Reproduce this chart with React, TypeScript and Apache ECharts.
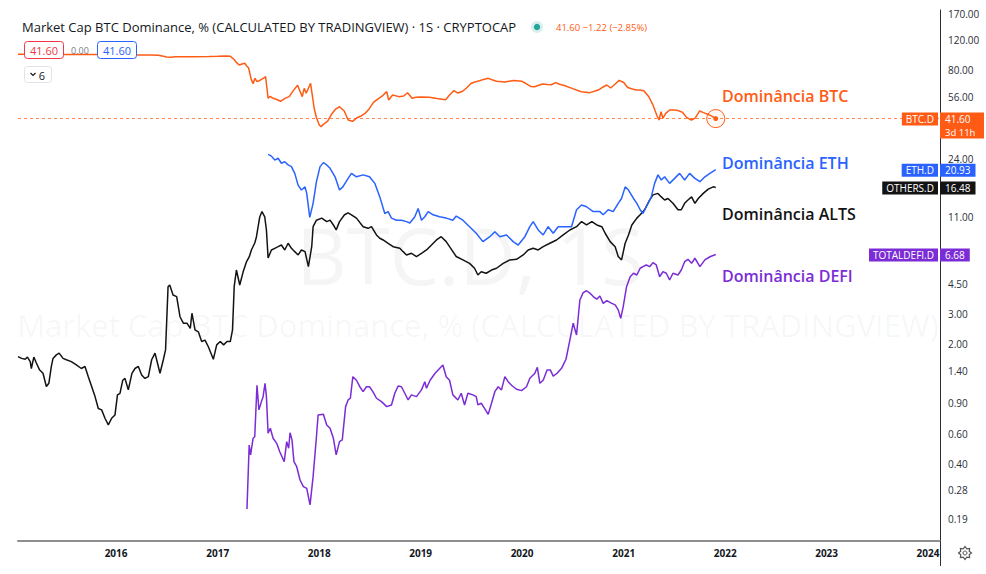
import React, { useEffect, useRef } from "react";
import * as echarts from "echarts";

// ---------- DATA ----------
const btcDominance: [string, number][] = [
  ["2015-01-13", 99.0], ["2015-03-01", 99.0], ["2015-05-01", 98.6], ["2015-07-01", 98.6], ["2015-09-01", 98.6],
  ["2015-11-01", 98.6], ["2016-01-01", 98.0], ["2016-03-01", 97.9], ["2016-05-01", 97.9], ["2016-06-01", 97.5],
  ["2016-06-15", 96.6], ["2016-07-01", 95.3], ["2016-07-15", 94.9], ["2016-08-01", 95.7], ["2016-10-01", 95.7],
  ["2016-12-01", 95.9], ["2017-01-01", 96.2], ["2017-02-01", 96.6], ["2017-02-15", 96.2], ["2017-03-01", 92.1],
  ["2017-03-08", 88.9], ["2017-03-19", 85.6], ["2017-04-01", 87.0], ["2017-04-08", 87.6], ["2017-04-15", 84.4],
  ["2017-04-22", 82.2], ["2017-05-01", 70.8], ["2017-05-08", 66.6], ["2017-05-15", 71.5], ["2017-05-22", 68.4],
  ["2017-06-01", 69.5], ["2017-06-15", 71.8], ["2017-06-22", 73.1], ["2017-07-01", 54.7], ["2017-07-08", 56.1],
  ["2017-07-15", 55.1], ["2017-08-01", 53.8], ["2017-08-15", 52.5], ["2017-09-01", 54.8], ["2017-09-15", 55.9],
  ["2017-10-01", 61.0], ["2017-10-15", 65.1], ["2017-11-01", 55.9], ["2017-11-08", 62.5], ["2017-11-15", 58.5],
  ["2017-12-01", 66.9], ["2017-12-08", 55.5], ["2017-12-15", 46.7], ["2017-12-22", 42.2], ["2018-01-01", 38.2],
  ["2018-01-08", 37.3], ["2018-01-15", 38.4], ["2018-02-01", 40.3], ["2018-02-15", 44.3], ["2018-03-01", 47.3],
  ["2018-03-15", 48.8], ["2018-04-01", 46.1], ["2018-04-15", 40.8], ["2018-05-01", 40.1], ["2018-05-15", 41.9],
  ["2018-06-01", 43.1], ["2018-06-15", 44.6], ["2018-07-01", 47.7], ["2018-07-15", 51.7], ["2018-08-01", 54.3],
  ["2018-08-15", 56.2], ["2018-09-01", 59.8], ["2018-09-08", 53.4], ["2018-09-22", 57.1], ["2018-10-15", 55.9],
  ["2018-11-01", 56.4], ["2018-11-15", 58.9], ["2018-12-01", 54.7], ["2018-12-15", 55.4], ["2019-01-01", 55.7],
  ["2019-02-01", 55.4], ["2019-03-01", 54.5], ["2019-04-01", 53.6], ["2019-04-15", 57.1], ["2019-05-01", 60.7],
  ["2019-05-15", 58.7], ["2019-06-01", 60.1], ["2019-06-15", 62.8], ["2019-07-01", 66.7], ["2019-07-15", 68.1],
  ["2019-08-01", 69.3], ["2019-08-15", 70.5], ["2019-09-01", 71.5], ["2019-09-15", 70.2], ["2019-10-01", 68.8],
  ["2019-11-01", 68.1], ["2019-12-01", 69.5], ["2020-01-01", 68.7], ["2020-01-15", 66.7], ["2020-02-01", 64.1],
  ["2020-02-15", 63.9], ["2020-03-01", 65.1], ["2020-03-15", 66.3], ["2020-04-01", 65.8], ["2020-04-15", 65.6],
  ["2020-05-01", 67.5], ["2020-05-15", 66.0], ["2020-06-01", 64.9], ["2020-07-01", 62.3], ["2020-08-01", 59.7],
  ["2020-09-01", 59.0], ["2020-10-01", 61.1], ["2020-10-15", 63.2], ["2020-11-01", 65.4], ["2020-11-15", 62.8],
  ["2020-12-01", 66.3], ["2020-12-15", 69.6], ["2021-01-01", 67.6], ["2021-01-15", 63.2], ["2021-02-01", 61.9],
  ["2021-02-15", 61.1], ["2021-03-01", 61.1], ["2021-03-15", 60.3], ["2021-04-01", 55.8], ["2021-04-15", 50.4],
  ["2021-05-01", 43.1], ["2021-05-08", 40.8], ["2021-05-15", 45.6], ["2021-05-22", 41.8], ["2021-06-01", 44.6],
  ["2021-06-15", 46.7], ["2021-07-01", 46.7], ["2021-07-15", 46.4], ["2021-08-01", 45.2], ["2021-08-15", 42.3],
  ["2021-09-01", 40.8], ["2021-09-15", 41.9], ["2021-10-01", 46.1], ["2021-10-15", 45.1], ["2021-11-01", 44.0],
  ["2021-11-15", 42.9], ["2021-11-28", 41.6],
];

const ethDominance: [string, number][] = [
  ["2017-07-01", 25.7], ["2017-07-13", 25.1], ["2017-07-25", 23.8], ["2017-08-06", 24.4], ["2017-08-18", 22.8],
  ["2017-08-30", 23.3], ["2017-09-11", 22.3], ["2017-09-23", 21.8], ["2017-10-05", 19.9], ["2017-10-17", 17.0],
  ["2017-10-29", 15.9], ["2017-11-11", 16.6], ["2017-11-17", 15.2], ["2017-11-28", 11.0], ["2017-12-10", 13.3],
  ["2017-12-22", 17.8], ["2018-01-04", 21.8], ["2018-01-16", 23.0], ["2018-01-28", 22.3], ["2018-02-09", 21.3],
  ["2018-02-27", 19.0], ["2018-03-15", 15.9], ["2018-03-27", 16.6], ["2018-04-15", 18.6], ["2018-04-27", 19.9],
  ["2018-05-15", 19.0], ["2018-06-08", 19.5], ["2018-07-01", 19.0], ["2018-07-20", 17.4], ["2018-08-07", 14.5],
  ["2018-08-25", 11.6], ["2018-09-06", 11.9], ["2018-09-18", 10.9], ["2018-10-06", 10.6], ["2018-10-24", 10.6],
  ["2018-11-11", 10.4], ["2018-11-23", 10.2], ["2018-12-11", 11.1], ["2018-12-23", 12.4], ["2019-01-04", 10.6],
  ["2019-01-16", 11.1], ["2019-01-28", 11.9], ["2019-02-15", 11.4], ["2019-03-10", 11.1], ["2019-04-03", 10.9],
  ["2019-04-27", 10.6], ["2019-05-09", 11.2], ["2019-06-02", 10.6], ["2019-06-26", 9.71], ["2019-07-20", 8.89],
  ["2019-08-13", 7.94], ["2019-09-07", 8.49], ["2019-09-25", 9.08], ["2019-10-13", 8.49], ["2019-11-06", 8.69],
  ["2019-11-30", 7.94], ["2019-12-18", 7.59], ["2020-01-11", 8.49], ["2020-01-29", 9.71], ["2020-02-10", 10.4],
  ["2020-02-28", 9.29], ["2020-03-17", 8.69], ["2020-04-04", 9.71], ["2020-04-22", 8.89], ["2020-05-10", 9.71],
  ["2020-06-03", 9.71], ["2020-06-27", 9.71], ["2020-07-15", 12.2], ["2020-08-02", 13.0], ["2020-08-20", 12.7],
  ["2020-09-13", 11.9], ["2020-10-07", 11.9], ["2020-10-19", 11.4], ["2020-11-06", 12.2], ["2020-11-24", 11.9],
  ["2020-12-12", 13.3], ["2020-12-24", 14.2], ["2021-01-06", 16.6], ["2021-01-18", 15.9], ["2021-02-05", 14.2],
  ["2021-02-17", 13.3], ["2021-03-01", 12.2], ["2021-03-11", 11.6], ["2021-03-23", 12.7], ["2021-04-10", 14.5],
  ["2021-04-22", 17.4], ["2021-05-04", 19.5], ["2021-05-16", 18.2], ["2021-05-28", 19.0], ["2021-06-15", 17.4],
  ["2021-07-03", 18.6], ["2021-07-21", 19.9], ["2021-08-08", 18.2], ["2021-08-26", 19.9], ["2021-09-14", 18.6],
  ["2021-10-02", 17.8], ["2021-10-20", 19.0], ["2021-11-07", 19.9], ["2021-11-28", 20.93],
];

const altsDominance: [string, number][] = [
  ["2015-01-13", 1.69], ["2015-01-26", 1.65], ["2015-02-08", 1.63], ["2015-02-16", 1.68], ["2015-02-26", 1.58],
  ["2015-03-02", 1.44], ["2015-03-11", 1.68], ["2015-03-20", 1.55], ["2015-04-01", 1.41], ["2015-04-13", 1.35],
  ["2015-04-25", 1.13], ["2015-05-04", 1.18], ["2015-05-13", 1.48], ["2015-05-19", 1.65], ["2015-05-31", 1.73],
  ["2015-06-10", 1.77], ["2015-06-24", 1.65], ["2015-07-06", 1.62], ["2015-07-24", 1.58], ["2015-08-11", 1.51],
  ["2015-08-29", 1.44], ["2015-09-11", 1.48], ["2015-09-23", 1.29], ["2015-10-05", 1.13], ["2015-10-17", 0.99],
  ["2015-10-29", 0.84], ["2015-11-10", 0.825], ["2015-11-22", 0.737], ["2015-12-04", 0.674], ["2015-12-16", 0.737],
  ["2015-12-28", 0.771], ["2016-01-06", 1.01], ["2016-01-15", 1.03], ["2016-01-25", 1.23], ["2016-02-02", 1.26],
  ["2016-02-14", 1.08], ["2016-02-27", 1.35], ["2016-03-09", 1.44], ["2016-03-21", 1.48], ["2016-04-02", 1.32],
  ["2016-04-14", 1.26], ["2016-04-26", 1.29], ["2016-05-08", 1.62], ["2016-05-20", 1.77], ["2016-05-26", 1.62],
  ["2016-06-07", 1.35], ["2016-06-19", 1.62], ["2016-06-27", 1.85], ["2016-07-06", 4.33], ["2016-07-12", 4.43],
  ["2016-07-24", 3.87], ["2016-08-06", 3.79], ["2016-08-18", 2.89], ["2016-08-30", 2.65], ["2016-09-12", 2.65],
  ["2016-09-24", 2.47], ["2016-09-30", 3.03], ["2016-10-11", 2.42], ["2016-10-23", 2.36], ["2016-11-04", 2.07],
  ["2016-11-16", 2.11], ["2016-11-28", 1.93], ["2016-12-16", 1.63], ["2016-12-28", 1.98], ["2017-01-10", 2.07],
  ["2017-01-22", 1.98], ["2017-02-03", 2.07], ["2017-02-15", 2.07], ["2017-02-23", 2.42], ["2017-03-01", 4.33],
  ["2017-03-09", 5.42], ["2017-03-21", 4.43], ["2017-04-02", 5.27], ["2017-04-14", 6.04], ["2017-04-24", 6.46],
  ["2017-05-02", 7.10], ["2017-05-14", 7.80], ["2017-05-20", 8.46], ["2017-06-01", 11.07], ["2017-06-09", 11.9],
  ["2017-06-19", 11.07], ["2017-06-25", 9.29], ["2017-07-01", 6.37], ["2017-07-13", 7.10], ["2017-07-25", 7.26],
  ["2017-08-06", 7.42], ["2017-08-18", 7.59], ["2017-08-30", 7.10], ["2017-09-11", 7.77], ["2017-09-23", 7.26],
  ["2017-10-05", 6.94], ["2017-10-17", 6.64], ["2017-10-29", 7.10], ["2017-11-11", 6.94], ["2017-11-23", 5.67],
  ["2017-12-05", 7.42], ["2017-12-10", 9.71], ["2017-12-22", 10.6], ["2018-01-10", 10.9], ["2018-01-28", 10.4],
  ["2018-02-09", 10.6], ["2018-02-21", 9.94], ["2018-03-03", 9.29], ["2018-03-15", 10.4], ["2018-04-02", 11.4],
  ["2018-04-15", 11.7], ["2018-04-27", 11.4], ["2018-05-15", 10.9], ["2018-06-08", 9.71], ["2018-06-26", 9.50],
  ["2018-07-08", 9.71], ["2018-07-26", 8.69], ["2018-08-07", 8.31], ["2018-08-19", 8.12], ["2018-09-06", 7.77],
  ["2018-09-24", 7.42], ["2018-10-18", 7.26], ["2018-10-30", 6.94], ["2018-11-11", 6.64], ["2018-11-29", 6.79],
  ["2018-12-17", 6.50], ["2019-01-04", 6.79], ["2019-01-22", 7.10], ["2019-02-09", 7.59], ["2019-02-27", 8.12],
  ["2019-03-16", 8.49], ["2019-04-03", 7.94], ["2019-04-15", 7.42], ["2019-05-09", 6.50], ["2019-06-02", 6.21],
  ["2019-06-26", 5.93], ["2019-07-14", 5.55], ["2019-07-26", 5.07], ["2019-08-07", 5.30], ["2019-08-25", 5.19],
  ["2019-09-13", 5.42], ["2019-10-01", 5.55], ["2019-10-25", 5.93], ["2019-11-18", 6.21], ["2019-12-12", 6.26],
  ["2020-01-05", 6.64], ["2020-01-23", 7.10], ["2020-02-10", 7.26], ["2020-02-28", 7.10], ["2020-03-17", 7.42],
  ["2020-04-10", 7.77], ["2020-05-04", 8.12], ["2020-05-28", 8.69], ["2020-06-21", 9.29], ["2020-07-15", 9.71],
  ["2020-08-02", 10.4], ["2020-08-20", 9.94], ["2020-09-08", 10.4], ["2020-09-26", 9.94], ["2020-10-14", 9.71],
  ["2020-10-26", 8.89], ["2020-11-13", 7.94], ["2020-12-01", 7.42], ["2020-12-12", 6.50], ["2020-12-24", 6.21],
  ["2021-01-06", 7.77], ["2021-01-18", 8.69], ["2021-01-30", 9.94], ["2021-02-17", 10.9], ["2021-03-01", 11.4],
  ["2021-03-17", 12.2], ["2021-04-04", 13.9], ["2021-04-16", 14.9], ["2021-05-04", 15.2], ["2021-05-16", 14.5],
  ["2021-05-28", 13.9], ["2021-06-09", 14.2], ["2021-06-27", 13.3], ["2021-07-15", 12.2], ["2021-07-27", 12.2],
  ["2021-08-08", 13.3], ["2021-08-20", 13.9], ["2021-09-02", 14.5], ["2021-09-14", 13.3], ["2021-09-26", 14.2],
  ["2021-10-14", 15.2], ["2021-11-01", 16.1], ["2021-11-19", 16.6], ["2021-11-28", 16.48],
];

const defiDominance: [string, number][] = [
  ["2017-04-16", 0.217], ["2017-04-24", 0.514], ["2017-04-29", 0.450], ["2017-05-08", 0.563], ["2017-05-14", 0.575],
  ["2017-05-22", 1.15], ["2017-05-29", 0.825], ["2017-06-07", 0.922], ["2017-06-13", 0.986], ["2017-06-20", 1.18],
  ["2017-06-25", 0.986], ["2017-07-01", 0.602], ["2017-07-09", 0.644], ["2017-07-19", 0.563], ["2017-08-01", 0.526],
  ["2017-08-12", 0.470], ["2017-08-28", 0.411], ["2017-09-06", 0.538], ["2017-09-13", 0.492], ["2017-09-18", 0.607],
  ["2017-09-25", 0.551], ["2017-10-02", 0.411], ["2017-10-12", 0.384], ["2017-10-24", 0.321], ["2017-11-05", 0.294],
  ["2017-11-17", 0.287], ["2017-11-29", 0.230], ["2017-12-10", 0.336], ["2017-12-22", 0.575], ["2017-12-28", 0.771],
  ["2018-01-16", 0.777], ["2018-01-28", 0.674], ["2018-02-09", 0.644], ["2018-02-21", 0.563], ["2018-03-03", 0.450],
  ["2018-03-15", 0.538], ["2018-03-25", 0.551], ["2018-04-06", 0.862], ["2018-04-15", 0.943], ["2018-04-23", 0.965],
  ["2018-05-02", 1.29], ["2018-05-15", 1.23], ["2018-05-27", 1.127], ["2018-06-08", 1.054], ["2018-06-20", 1.127],
  ["2018-07-01", 1.127], ["2018-07-13", 1.054], ["2018-07-26", 0.965], ["2018-08-13", 0.922], ["2018-09-01", 0.862],
  ["2018-09-18", 0.882], ["2018-09-30", 1.032], ["2018-10-12", 1.138], ["2018-10-24", 1.127], ["2018-11-05", 1.032],
  ["2018-11-17", 0.943], ["2018-11-29", 1.01], ["2018-12-17", 0.986], ["2019-01-04", 1.08], ["2019-01-16", 1.206],
  ["2019-01-22", 1.104], ["2019-02-04", 1.23], ["2019-02-22", 1.351], ["2019-03-16", 1.476], ["2019-03-22", 1.51],
  ["2019-04-03", 1.29], ["2019-04-15", 1.23], ["2019-04-27", 1.01], ["2019-05-15", 0.943], ["2019-05-27", 1.032],
  ["2019-06-08", 0.882], ["2019-06-20", 1.032], ["2019-07-08", 1.01], ["2019-07-20", 0.986], ["2019-07-26", 0.882],
  ["2019-08-07", 0.902], ["2019-08-19", 0.843], ["2019-09-01", 0.777], ["2019-09-13", 0.902], ["2019-09-25", 1.054],
  ["2019-10-07", 1.127], ["2019-10-19", 1.08], ["2019-10-31", 1.29], ["2019-11-12", 1.206], ["2019-11-24", 1.15],
  ["2019-12-12", 1.089], ["2019-12-30", 1.069], ["2020-01-17", 1.127], ["2020-01-29", 1.262], ["2020-02-16", 1.351],
  ["2020-02-25", 1.464], ["2020-03-05", 1.18], ["2020-03-17", 1.23], ["2020-03-31", 1.41], ["2020-04-12", 1.41],
  ["2020-04-22", 1.30], ["2020-05-06", 1.351], ["2020-05-22", 1.444], ["2020-06-07", 1.631], ["2020-06-21", 2.11],
  ["2020-07-03", 2.65], ["2020-07-15", 2.26], ["2020-07-27", 3.62], ["2020-08-08", 4.00], ["2020-08-20", 4.10],
  ["2020-09-02", 3.96], ["2020-09-13", 3.79], ["2020-09-26", 3.66], ["2020-10-07", 3.82], ["2020-10-19", 3.46],
  ["2020-11-01", 3.59], ["2020-11-19", 3.46], ["2020-12-01", 3.39], ["2020-12-12", 3.17], ["2020-12-21", 2.83],
  ["2020-12-30", 3.31], ["2021-01-11", 4.33], ["2021-01-24", 4.95], ["2021-02-05", 5.19], ["2021-02-17", 5.07],
  ["2021-03-01", 5.55], ["2021-03-11", 5.67], ["2021-03-23", 5.80], ["2021-04-04", 5.67], ["2021-04-16", 5.98],
  ["2021-04-28", 5.80], ["2021-05-10", 4.95], ["2021-05-22", 5.30], ["2021-06-03", 5.19], ["2021-06-15", 4.74],
  ["2021-06-27", 5.19], ["2021-07-15", 5.07], ["2021-07-27", 5.42], ["2021-08-08", 6.06], ["2021-08-20", 6.26],
  ["2021-09-02", 5.93], ["2021-09-14", 6.35], ["2021-10-02", 5.67], ["2021-10-20", 6.21], ["2021-11-07", 6.48],
  ["2021-11-28", 6.68],
];

const yAxisTicks = [0.19, 0.28, 0.4, 0.6, 0.9, 1.4, 2, 3, 4.5, 11, 24, 56, 80, 120, 170];
const yearTicks = [2016, 2017, 2018, 2019, 2020, 2021, 2022, 2023, 2024];

const X_MIN = "2015-01-13";
const X_MAX = "2024-02-13";
const Y_MIN = 0.1413;
const Y_MAX = 179.4;

const ORANGE = "#ff5b14";
const BLUE = "#2962ff";
const BLACK = "#131313";
const PURPLE = "#7b2cd6";

const seriesInfo = [
  { name: "TOTALDEFI.D", label: "Dominância DEFI", color: PURPLE, data: defiDominance, labelY: 276 },
  { name: "OTHERS.D", label: "Dominância ALTS", color: BLACK, data: altsDominance, labelY: 214 },
  { name: "ETH.D", label: "Dominância ETH", color: BLUE, data: ethDominance, labelY: 163 },
  { name: "BTC.D", label: "Dominância BTC", color: ORANGE, data: btcDominance, labelY: 96 },
];

const FONT = '"Open Sans", "Noto Sans", sans-serif';
const toTs = (d: string) => Date.parse(d + "T00:00:00Z");

export default function App() {
  const ref = useRef<HTMLDivElement>(null);

  useEffect(() => {
    if (!ref.current) return;
    const chart = echarts.init(ref.current, null, { renderer: "svg" });
    const btcLastRaw = btcDominance[btcDominance.length - 1];
    const btcLast = [toTs(btcLastRaw[0]), btcLastRaw[1]];

    const series: any[] = seriesInfo.map((s) => ({
      type: "line",
      name: s.name,
      data: s.data.map(([d, v]) => [toTs(d), v]),
      symbol: "none",
      showSymbol: false,
      lineStyle: { color: s.color, width: 1.5 },
      itemStyle: { color: s.color },
      emphasis: { disabled: true },
      z: 3,
    }));
    const btcSeries = series[3];
    btcSeries.markLine = {
      silent: true,
      symbol: ["none", "none"],
      label: { show: false },
      lineStyle: { color: ORANGE, type: [3, 3], width: 1, opacity: 0.75 },
      data: [{ yAxis: btcLast[1] }],
    };
    btcSeries.markPoint = {
      silent: true,
      label: { show: false },
      data: [
        { coord: btcLast, symbol: "circle", symbolSize: 18, itemStyle: { color: "rgba(255,91,20,0.04)", borderColor: ORANGE, borderWidth: 1 } },
        { coord: btcLast, symbol: "circle", symbolSize: 5, itemStyle: { color: ORANGE } },
      ],
    };

    chart.setOption({
      animation: false,
      backgroundColor: "#ffffff",
      grid: { left: 18, right: 46, top: 10, bottom: 33, containLabel: false },
      xAxis: {
        type: "value",
        min: toTs(X_MIN),
        max: toTs(X_MAX),
        axisLine: { show: true, onZero: false, lineStyle: { color: "#8e8e8e", width: 2 } },
        axisTick: { show: false },
        splitLine: { show: false },
        axisLabel: {
          customValues: yearTicks.map((y) => Date.UTC(y, 0, 1)),
          formatter: (v: number) => String(new Date(v).getUTCFullYear()),
          color: "#131722",
          fontSize: 10,
          fontWeight: "bold",
          fontFamily: FONT,
          margin: 7,
        },
      },
      yAxis: {
        type: "log",
        logBase: 10,
        min: Y_MIN,
        max: Y_MAX,
        position: "right",
        axisLine: { show: true, lineStyle: { color: "#2a2e39", width: 1 } },
        axisTick: { show: false },
        splitLine: { show: false },
        axisLabel: {
          customValues: yAxisTicks,
          formatter: (v: number) => Number(v).toFixed(2),
          color: "#2a2e39",
          fontSize: 10,
          fontFamily: FONT,
          margin: 8,
        },
      },
      series,
    });

    const py = (v: number) => chart.convertToPixel({ yAxisIndex: 0 }, v) as number;
    const tagFont = `10px ${FONT}`;
    const leftTag = (yc: number, text: string, bg: string) => ({
      type: "text", x: 938, y: yc + 0.5, z: 100,
      style: { text, fill: "#ffffff", backgroundColor: bg, padding: [1, 4, 1, 4], lineHeight: 11, font: tagFont, align: "right", verticalAlign: "middle" },
    });
    const rightTag = (yc: number, text: string, bg: string) => ({
      type: "text", x: 940, y: yc + 0.5, z: 100,
      style: { text, fill: "#ffffff", backgroundColor: bg, padding: [1, 5, 1, 5], lineHeight: 11, font: tagFont, align: "left", verticalAlign: "middle" },
    });

    const tags: any[] = [];
    seriesInfo.forEach((s) => {
      const last = s.data[s.data.length - 1][1];
      const yc = py(last);
      tags.push(leftTag(yc, s.name, s.color));
      if (s.name === "BTC.D") {
        tags.push({ type: "rect", shape: { x: 940, y: yc - 6, width: 44, height: 26 }, z: 99, style: { fill: s.color } });
        tags.push({ type: "text", x: 945, y: yc + 0.5, z: 100, style: { text: last.toFixed(2), fill: "#ffffff", font: tagFont, align: "left", verticalAlign: "middle" } });
        tags.push({ type: "text", x: 945, y: yc + 13.5, z: 100, style: { text: "3d 11h", fill: "#ffffff", font: `9.5px ${FONT}`, align: "left", verticalAlign: "middle" } });
      } else {
        tags.push(rightTag(yc, last.toFixed(2), s.color));
      }
      tags.push({
        type: "text", x: 722, y: s.labelY, z: 50,
        style: { text: s.label, fill: s.color, font: `600 16px ${FONT}`, align: "left", verticalAlign: "middle" },
      });
    });

    const gearPts: number[][] = [];
    for (let i = 0; i < 16; i++) {
      const a = (i / 16) * Math.PI * 2;
      const r = i % 2 === 0 ? 6.5 : 4.6;
      gearPts.push([965 + r * Math.cos(a), 553 + r * Math.sin(a)]);
    }

    const statics: any[] = [
      { type: "text", x: 470, y: 255, z: 0, silent: true,
        style: { text: "BTC.D, 1S", fill: "rgba(19,23,34,0.045)", font: `78px ${FONT}`, align: "center", verticalAlign: "middle" } },
      { type: "text", x: 478, y: 325, z: 0, silent: true,
        style: { text: "Market Cap BTC Dominance, % (CALCULATED BY TRADINGVIEW)", fill: "rgba(19,23,34,0.045)", font: `31px ${FONT}`, align: "center", verticalAlign: "middle" } },
      { type: "text", x: 22, y: 27, z: 60,
        style: { text: "Market Cap BTC Dominance, % (CALCULATED BY TRADINGVIEW) · 1S · CRYPTOCAP", fill: "#131722", font: `13px ${FONT}`, align: "left", verticalAlign: "middle" } },
      { type: "circle", shape: { cx: 537, cy: 27, r: 6 }, z: 60, style: { fill: "rgba(38,166,154,0.18)" } },
      { type: "circle", shape: { cx: 537, cy: 27, r: 3.2 }, z: 61, style: { fill: "#26a69a" } },
      { type: "text", x: 556, y: 27, z: 60,
        style: { text: "41.60 −1.22 (−2.85%)", fill: ORANGE, font: `9.5px ${FONT}`, align: "left", verticalAlign: "middle" } },
      { type: "rect", shape: { x: 24.5, y: 41.5, width: 39, height: 17, r: 3 }, z: 60, style: { fill: "#ffffff", stroke: "#f23645", lineWidth: 1 } },
      { type: "text", x: 44, y: 50, z: 61, style: { text: "41.60", fill: "#f23645", font: `11px ${FONT}`, align: "center", verticalAlign: "middle" } },
      { type: "text", x: 80, y: 50, z: 61, style: { text: "0.00", fill: "#787b86", font: `9px ${FONT}`, align: "center", verticalAlign: "middle" } },
      { type: "rect", shape: { x: 97.5, y: 41.5, width: 39, height: 17, r: 3 }, z: 60, style: { fill: "#ffffff", stroke: BLUE, lineWidth: 1 } },
      { type: "text", x: 117, y: 50, z: 61, style: { text: "41.60", fill: BLUE, font: `11px ${FONT}`, align: "center", verticalAlign: "middle" } },
      { type: "rect", shape: { x: 24.5, y: 66.5, width: 27, height: 16, r: 3 }, z: 60, style: { fill: "#ffffff", stroke: "#e0e3eb", lineWidth: 1 } },
      { type: "polyline", shape: { points: [[30.5, 73], [33, 75.5], [35.5, 73]] }, z: 61, style: { stroke: "#131722", lineWidth: 1.2, fill: "none" } },
      { type: "text", x: 42, y: 75, z: 61, style: { text: "6", fill: "#131722", font: `11px ${FONT}`, align: "center", verticalAlign: "middle" } },
      { type: "line", shape: { x1: 940.5, y1: 541, x2: 940.5, y2: 566 }, z: 60, style: { stroke: "#2a2e39", lineWidth: 1 } },
      { type: "polygon", shape: { points: gearPts }, z: 60, style: { fill: "none", stroke: "#555555", lineWidth: 1.2 } },
      { type: "circle", shape: { cx: 965, cy: 553, r: 2 }, z: 60, style: { fill: "none", stroke: "#555555", lineWidth: 1 } },
    ];

    chart.setOption({ graphic: { elements: [...statics, ...tags] } });

    return () => chart.dispose();
  }, []);

  return <div ref={ref} style={{ position: "absolute", left: 0, top: 0, width: 986, height: 574 }} />;
}
